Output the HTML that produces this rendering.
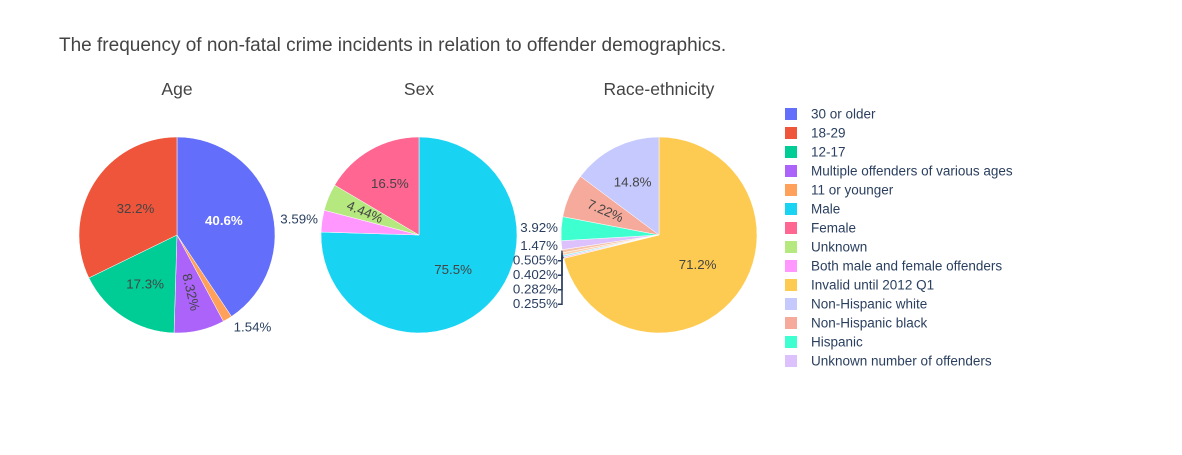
<!DOCTYPE html>
<html><head><meta charset="utf-8">
<style>
body{margin:0;background:#fff;font-family:"Liberation Sans",Arial,sans-serif;}
svg text{font-family:"Liberation Sans",Arial,sans-serif;}
</style></head>
<body>
<svg id="chart" width="1182" height="450" xmlns="http://www.w3.org/2000/svg">
<rect width="1182" height="450" fill="#fff"/>
<text x="59" y="51" font-size="19" fill="#444">The frequency of non-fatal crime incidents in relation to offender demographics.</text>
<g id="pies"></g>
<g id="legend"></g>
</svg>
<script>
// Age pie (clockwise from 12 o'clock)
const ageLabels = ["30 or older","11 or younger","Multiple offenders of various ages","12-17","18-29"];
const ageValues = [40.6,1.54,8.32,17.3,32.2];
const ageColors = ["#636efa","#FFA15A","#ab63fa","#00cc96","#EF553B"];
// Sex pie
const sexLabels = ["Male","Both male and female offenders","Unknown","Female"];
const sexValues = [75.5,3.59,4.44,16.5];
const sexColors = ["#19d3f3","#FF97FF","#B6E880","#FF6692"];
// Race pie
const raceLabels = ["Invalid until 2012 Q1","Other race 4","Other race 3","Other race 2","Other race 1","Unknown number of offenders","Hispanic","Non-Hispanic black","Non-Hispanic white"];
const raceValues = [71.2,0.255,0.282,0.402,0.505,1.47,3.92,7.22,14.8];
const raceColors = ["#FECB52","#ffc2e0","#a3e9f9","#ffd0ac","#f5c4a8","#ddc1fd","#3dffcf","#f6aa9c","#c6c9fd"];
// Legend
const legendLabels = ["30 or older","18-29","12-17","Multiple offenders of various ages","11 or younger","Male","Female","Unknown","Both male and female offenders","Invalid until 2012 Q1","Non-Hispanic white","Non-Hispanic black","Hispanic","Unknown number of offenders"];
const legendColors = ["#636efa","#EF553B","#00cc96","#ab63fa","#FFA15A","#19d3f3","#FF6692","#B6E880","#FF97FF","#FECB52","#c6c9fd","#f6aa9c","#3dffcf","#ddc1fd"];

const NS="http://www.w3.org/2000/svg";
const pies=document.getElementById('pies');
function mk(tag,attrs,parent){const e=document.createElementNS(NS,tag);for(const k in attrs)e.setAttribute(k,attrs[k]);parent.appendChild(e);return e;}
function pt(cx,cy,r,f){const a=f*2*Math.PI;return [cx+r*Math.sin(a),cy-r*Math.cos(a)];}
function fmt(v){return v+"%";}
const FS=13.3;

function drawPie(key,title,cx,cy,r,labels,values,colors){
  const g=mk('g',{},pies);
  
  
  const t=mk('text',{x:cx,y:95,'font-size':17.5,fill:'#444','text-anchor':'middle'},g);
  t.textContent=title;
  
  
  const total=values.reduce((a,b)=>a+b,0);
  let cum=0;const outs=[];
  values.forEach((v,i)=>{
    const f0=cum/total,f1=(cum+v)/total;cum+=v;
    const p0=pt(cx,cy,r,f0),p1=pt(cx,cy,r,f1);
    const large=(f1-f0)>0.5?1:0;
    const path=mk('path',{d:`M${cx},${cy}L${p0[0]},${p0[1]}A${r},${r} 0 ${large} 1 ${p1[0]},${p1[1]}Z`,fill:colors[i],stroke:'#fff','stroke-width':0.5},g);
    
    
    const fm=(f0+f1)/2, frac=f1-f0;
    if(frac>0.04){
      const p=pt(cx,cy,r*(frac>0.3?0.5:0.6),fm);
      const txt=mk('text',{x:p[0],y:p[1]+4,'font-size':FS,fill:(i===0&&key==='age')?'#fff':'#444','text-anchor':'middle','font-weight':(i===0&&key==='age')?'bold':'normal'},g);
      if(frac<0.1){
        let ang=fm*360-90; if(ang>90)ang-=180; if(ang<-90)ang+=180;
        txt.setAttribute('transform',`rotate(${ang} ${p[0]} ${p[1]})`);
      }
      txt.textContent=fmt(values[i]);
      
      
    } else {
      const e=pt(cx,cy,r,fm);const p=pt(cx,cy,r+10,fm);
      outs.push({v:values[i],e:e,x:p[0],y:p[1],left:p[0]<cx});
    }
  });
  const lefts=outs.filter(o=>o.left).sort((a,b)=>a.y-b.y);
  let prev=-1e9;
  lefts.forEach(o=>{o.y=Math.max(o.y,prev+14.5);prev=o.y;});
  outs.forEach(o=>{
    const lx=o.left?cx-r-1:o.x;
    if(o.left&&Math.abs(o.y-o.e[1])>3){
      const ln=mk('path',{d:`M${o.e[0]},${o.e[1]}L${lx+2},${o.e[1]}L${lx+2},${o.y}L${lx-2},${o.y}`,fill:'none',stroke:'#2a3f5f','stroke-width':1.5},g);
      
      
    }
    const txt=mk('text',{x:o.left?lx-2:o.x+1,y:o.y+4,'font-size':FS,fill:'#2a3f5f','text-anchor':o.left?'end':'start'},g);
    txt.textContent=fmt(o.v);
    
    
  });
}
drawPie('age','Age',177,235,98,ageLabels,ageValues,ageColors);
drawPie('sex','Sex',419,235,98,sexLabels,sexValues,sexColors);
drawPie('race','Race-ethnicity',659,235,98,raceLabels,raceValues,raceColors);

const lg=document.getElementById('legend');
legendLabels.forEach((l,i)=>{
  const y=114+i*19;
  const g=mk('g',{},lg);
  
  
  mk('rect',{x:785,y:y-6,width:12,height:12,fill:legendColors[i]},g);
  const t=mk('text',{x:811,y:y+4.5,'font-size':13.5,fill:'#2a3f5f'},g);
  t.textContent=l;
});
</script>
</body></html>
